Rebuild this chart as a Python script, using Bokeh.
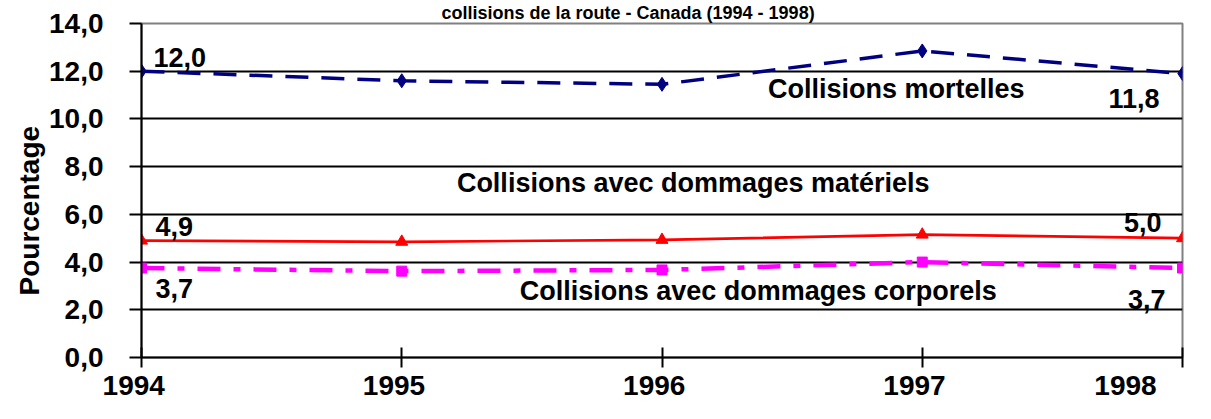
from bokeh.plotting import figure
from bokeh.models import Label, FixedTicker, Range1d, Title
from bokeh.embed import file_html
from bokeh.resources import INLINE

# ---- data ----
years = [1994, 1995, 1996, 1997, 1998]
year_labels = ["1994", "1995", "1996", "1997", "1998"]
mortelles = [12.0, 11.6, 11.45, 12.85, 11.9]
materiels = [4.9, 4.85, 4.93, 5.15, 5.0]
corporels = [3.75, 3.62, 3.67, 4.0, 3.75]
y_ticks = [0, 2, 4, 6, 8, 10, 12, 14]
y_tick_labels = ["0,0", "2,0", "4,0", "6,0", "8,0", "10,0", "12,0", "14,0"]
series_names = ["Collisions mortelles",
                "Collisions avec dommages matériels",
                "Collisions avec dommages corporels"]
mort_labels = ["12,0", "11,8"]
mat_labels = ["4,9", "5,0"]
corp_labels = ["3,7", "3,7"]
title_text = "collisions de la route - Canada (1994 - 1998)"
y_title = "Pourcentage"

FONT = "Liberation Sans"
FS = "27px"
NB = "\u00a0"

p = figure(width=1195, height=403,
           x_range=Range1d(1994, 1998), y_range=Range1d(0, 14),
           output_backend="svg", toolbar_location=None,
           min_border_left=141, min_border_right=13,
           min_border_top=23, min_border_bottom=44)
p.background_fill_color = "white"
p.border_fill_color = "white"
p.outline_line_color = "#808080"
p.outline_line_width = 2

# title (top strip)
p.title.text = title_text
p.title.align = "left"
p.title.offset = 300
p.title.text_font = FONT
p.title.text_font_style = "bold"
p.title.text_font_size = "18px"
p.title.text_color = "black"
p.title.standoff = 1

# grid
p.xgrid.grid_line_color = None
p.ygrid.ticker = FixedTicker(ticks=y_ticks[1:-1])
p.ygrid.grid_line_color = "black"
p.ygrid.grid_line_width = 1.8

# x axis
p.xaxis.ticker = FixedTicker(ticks=years)
pads = [2, 2, 2, 2, 5]
p.xaxis.major_label_overrides = {y: s + NB * n for y, s, n in zip(years, year_labels, pads)}
p.xaxis.axis_line_color = "black"
p.xaxis.axis_line_width = 2
p.xaxis.major_tick_line_color = "black"
p.xaxis.major_tick_line_width = 2
p.xaxis.major_tick_in = 10
p.xaxis.major_tick_out = 10
p.xaxis.minor_tick_line_color = None
p.xaxis.major_label_standoff = 2
p.xaxis.major_label_text_font = FONT
p.xaxis.major_label_text_font_style = "bold"
p.xaxis.major_label_text_font_size = "28px"
p.xaxis.major_label_text_color = "black"

# y axis
p.yaxis.ticker = FixedTicker(ticks=y_ticks)
p.yaxis.major_label_overrides = {t: s for t, s in zip(y_ticks, y_tick_labels)}
p.yaxis.axis_line_color = "black"
p.yaxis.axis_line_width = 2
p.yaxis.major_tick_line_color = "black"
p.yaxis.major_tick_line_width = 2
p.yaxis.major_tick_in = 0
p.yaxis.major_tick_out = 12
p.yaxis.minor_tick_line_color = None
p.yaxis.major_label_standoff = 26
p.yaxis.major_label_text_font = FONT
p.yaxis.major_label_text_font_style = "bold"
p.yaxis.major_label_text_font_size = "28px"
p.yaxis.major_label_text_color = "black"

# y-axis title as a left-side title (starts 62px above the frame bottom)
p.add_layout(Title(text=y_title, align="left", offset=62,
                   text_font=FONT, text_font_style="bold",
                   text_font_size="28px", text_color="black",
                   standoff=4), "left")

# series
NAVY = "#000080"
RED = "#FF0000"
MAG = "#FF00FF"
p.line(years, mortelles, line_color=NAVY, line_width=3.5, line_dash="23 13")
p.scatter(years, mortelles, marker="diamond", size=14, color=NAVY)
p.line(years, materiels, line_color=RED, line_width=2.7)
p.scatter(years, materiels, marker="triangle", size=12, color=RED)
p.line(years, corporels, line_color=MAG, line_width=4.5, line_dash="23 13 7 13")
p.scatter(years, corporels, marker="square", size=10, color=MAG)


def lab(text, x, y, xo=0, yo=0, align="left"):
    p.add_layout(Label(x=x, y=y, x_offset=xo, y_offset=yo, text=text,
                       text_align=align, text_baseline="alphabetic",
                       text_font=FONT, text_font_style="bold",
                       text_font_size=FS, text_color="black"))


# value labels (first / last point)
lab(mort_labels[0], years[0], mortelles[0], 12, 14)
lab(mort_labels[1], years[-1], mortelles[-1], -23, -25, align="right")
lab(mat_labels[0], years[0], materiels[0], 14, 14)
lab(mat_labels[1], years[-1], materiels[-1], -21, 16, align="right")
lab(corp_labels[0], years[0], corporels[0], 14, -20)
lab(corp_labels[1], years[-1], corporels[-1], -17, -31, align="right")

# series names
lab(series_names[0], 1996.9, 10.82, 0, 10, align="center")
lab(series_names[1], 1996.12, 6.9, 0, 10, align="center")
lab(series_names[2], 1996.37, 2.375, 0, 10, align="center")

open("out.html", "w").write(file_html(p, INLINE))
